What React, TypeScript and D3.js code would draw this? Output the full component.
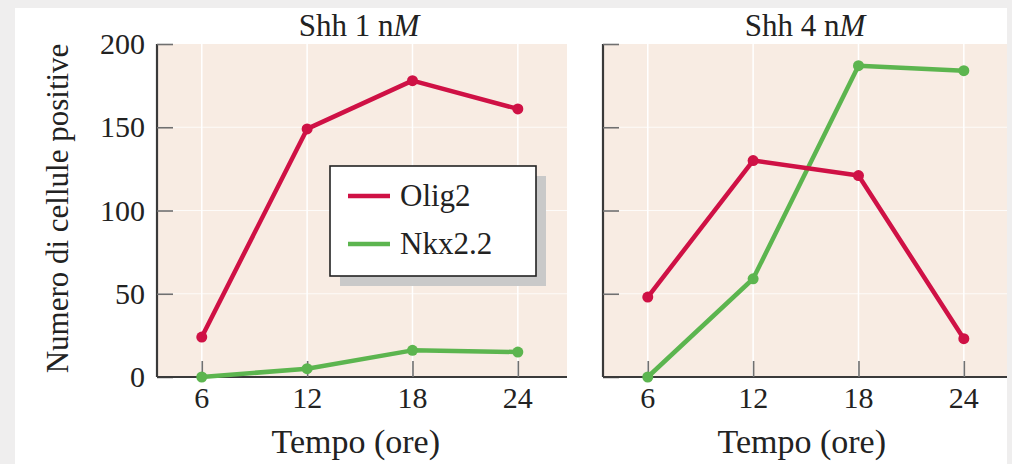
import React, { useEffect, useRef } from 'react';
import * as d3 from 'd3';

const hours = [6, 12, 18, 24];
const yTicks = [0, 50, 100, 150, 200];

const olig2Low = [24, 149, 178, 161];
const nkxLow = [0, 5, 16, 15];
const olig2High = [48, 130, 121, 23];
const nkxHigh = [0, 59, 187, 184];

const panels = [
  { title: 'Shh 1 n', olig2: olig2Low, nkx: nkxLow, left: 157, right: 567, showY: true },
  { title: 'Shh 4 n', olig2: olig2High, nkx: nkxHigh, left: 603, right: 1013, showY: false },
];

const RED = '#cf1145';
const GREEN = '#5cb54f';
const FONT = '"Liberation Serif", "DejaVu Serif", serif';
const INK = '#222222';

function App() {
  const ref = useRef<SVGSVGElement>(null);

  useEffect(() => {
    if (!ref.current) return;
    const svg = d3.select(ref.current);
    svg.selectAll('*').remove();

    const W = 1012, H = 464;
    const top = 44, bottom = 377;

    // page frame: grey border, white card
    svg.append('rect').attr('width', W).attr('height', H).attr('fill', '#efeeee');
    svg.append('rect').attr('x', 15).attr('y', 8).attr('width', 992).attr('height', H).attr('fill', '#ffffff');

    const y = d3.scaleLinear().domain([0, 200]).range([bottom, top]);

    panels.forEach(p => {
      const x = d3.scaleLinear().domain([3.45, 26.8]).range([p.left, p.right]);
      const g = svg.append('g');

      g.append('rect')
        .attr('x', p.left).attr('y', top)
        .attr('width', p.right - p.left).attr('height', bottom - top)
        .attr('fill', '#f8ece3');

      // white grid
      g.selectAll('.vgrid').data(hours).join('line')
        .attr('x1', d => x(d)).attr('x2', d => x(d))
        .attr('y1', top).attr('y2', bottom)
        .attr('stroke', '#ffffff').attr('stroke-width', 1.5);
      g.selectAll('.hgrid').data(yTicks.slice(1, 4)).join('line')
        .attr('x1', p.left).attr('x2', p.right)
        .attr('y1', d => y(d)).attr('y2', d => y(d))
        .attr('stroke', '#ffffff').attr('stroke-width', 1.2).attr('opacity', 0.8);

      // axes, ticks inward
      const yAxis = g.append('g').attr('transform', `translate(${p.left},0)`)
        .call(d3.axisRight(y).tickValues(yTicks).tickSize(16).tickFormat(() => ''));
      yAxis.select('.domain').attr('d', `M0,${top}V${bottom}`).attr('stroke', '#3a3a3a').attr('stroke-width', 2.2);
      yAxis.selectAll('.tick line').attr('stroke', '#707070').attr('stroke-width', 1.6);

      const xAxis = g.append('g').attr('transform', `translate(0,${bottom})`)
        .call(d3.axisTop(x).tickValues(hours).tickSize(16).tickFormat(() => ''));
      xAxis.select('.domain').attr('d', `M${p.left},0H${p.right}`).attr('stroke', '#3a3a3a').attr('stroke-width', 2.2);
      xAxis.selectAll('.tick line').attr('stroke', '#707070').attr('stroke-width', 1.6);

      g.selectAll('.xlab').data(hours).join('text')
        .attr('x', d => x(d)).attr('y', 408)
        .attr('text-anchor', 'middle')
        .attr('font-family', FONT).attr('font-size', 30).attr('fill', INK)
        .text(d => d);

      if (p.showY) {
        g.selectAll('.ylab').data(yTicks).join('text')
          .attr('x', 145).attr('y', d => y(d) + 10)
          .attr('text-anchor', 'end')
          .attr('font-family', FONT).attr('font-size', 30).attr('fill', INK)
          .text(d => d);
      }

      const title = g.append('text')
        .attr('x', (p.left + p.right) / 2 - 3).attr('y', 36)
        .attr('text-anchor', 'middle')
        .attr('font-family', FONT).attr('font-size', 31).attr('fill', INK);
      title.append('tspan').text(p.title);
      title.append('tspan').attr('font-style', 'italic').text('M');

      g.append('text')
        .attr('x', x(15) - 4).attr('y', 453)
        .attr('text-anchor', 'middle')
        .attr('font-family', FONT).attr('font-size', 34).attr('fill', INK)
        .text('Tempo (ore)');

      const line = d3.line<number>().x((_, i) => x(hours[i])).y(d => y(d));
      [
        { vals: p.nkx, color: GREEN },
        { vals: p.olig2, color: RED },
      ].forEach(s => {
        g.append('path').attr('d', line(s.vals)).attr('fill', 'none')
          .attr('stroke', s.color).attr('stroke-width', 4.5).attr('stroke-linejoin', 'round');
        g.selectAll(null).data(s.vals).join('circle')
          .attr('cx', (_, i) => x(hours[i])).attr('cy', d => y(d))
          .attr('r', 5.5).attr('fill', s.color);
      });
    });

    // y label
    svg.append('text')
      .attr('transform', `translate(68,${(top + bottom) / 2 - 2}) rotate(-90)`)
      .attr('text-anchor', 'middle')
      .attr('font-family', FONT).attr('font-size', 31).attr('fill', INK)
      .text('Numero di cellule positive');

    // legend with drop shadow
    const lg = svg.append('g');
    lg.append('rect').attr('x', 340).attr('y', 176).attr('width', 206).attr('height', 110).attr('fill', '#c9c9c9');
    lg.append('rect').attr('x', 330).attr('y', 166).attr('width', 206).attr('height', 110)
      .attr('fill', '#ffffff').attr('stroke', '#222').attr('stroke-width', 1.6);
    [
      { name: 'Olig2', color: RED, cy: 196 },
      { name: 'Nkx2.2', color: GREEN, cy: 244 },
    ].forEach(e => {
      lg.append('line').attr('x1', 348).attr('x2', 390).attr('y1', e.cy).attr('y2', e.cy)
        .attr('stroke', e.color).attr('stroke-width', 4.5);
      lg.append('text').attr('x', 400).attr('y', e.cy + 10)
        .attr('font-family', FONT).attr('font-size', 31).attr('fill', INK)
        .text(e.name);
    });

    // grey strip at right edge
    svg.append('rect').attr('x', 1007).attr('y', 0).attr('width', 5).attr('height', H).attr('fill', '#efeeee');
  }, []);

  return (
    <svg
      ref={ref}
      width={1012}
      height={464}
      style={{ position: 'absolute', left: 0, top: 0, display: 'block' }}
    />
  );
}

export default App;
